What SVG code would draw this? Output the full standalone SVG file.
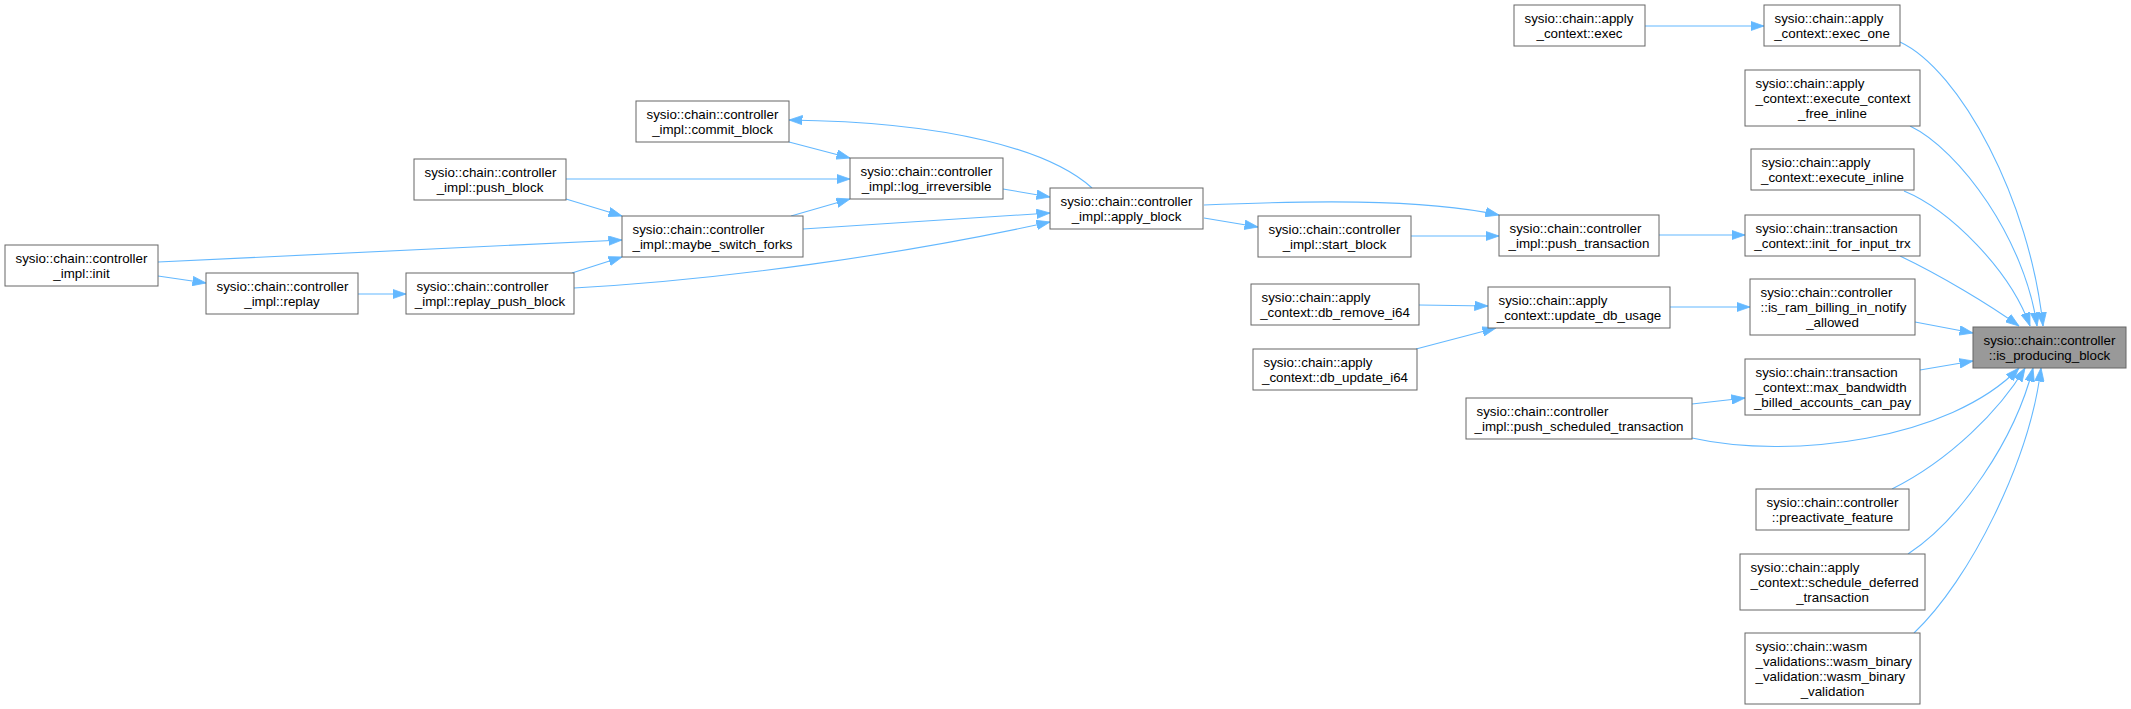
<svg xmlns="http://www.w3.org/2000/svg" width="2131" height="709" viewBox="0 0 2131 709">
<style>
.n rect{fill:#ffffff;stroke:#666666;stroke-width:1}
.n.hl rect{fill:#999999}
.n text{font-family:"Liberation Sans",Arial,Helvetica,sans-serif;font-size:13.33px;fill:#000000}
.n text.c{text-anchor:middle}
#edges path{fill:none;stroke:#63b8ff;stroke-width:1.1;marker-end:url(#ah)}
</style>
<defs>
<marker id="ah" markerUnits="userSpaceOnUse" markerWidth="14" markerHeight="10" viewBox="0 0 14 10" refX="13.5" refY="5" orient="auto">
<path d="M0,0.3 L13.5,5 L0,9.7 z" fill="#63b8ff" stroke="#63b8ff" stroke-width="0.8"/>
</marker>
</defs>
<rect x="0" y="0" width="2131" height="709" fill="#ffffff"/>
<g id="edges">
<path d="M1645,26 L1764,26"/>
<path d="M1900,42 C1960,70 2030,200 2043,326"/>
<path d="M1910,126 C1960,150 2025,240 2037,326"/>
<path d="M1904,191 C1950,210 2010,270 2030,326"/>
<path d="M1900,256 C1940,275 1990,305 2019,326"/>
<path d="M1915,322 L1973,333"/>
<path d="M1920,370 L1973,361"/>
<path d="M1692,438 C1790,460 1950,440 2019,368"/>
<path d="M1892,489 C1950,460 2000,410 2025,368"/>
<path d="M1908,554 C1960,520 2015,440 2033,368"/>
<path d="M1914,633 C1970,580 2030,460 2041,368"/>
<path d="M1659,235 L1745,235"/>
<path d="M1670,307 L1750,307"/>
<path d="M1692,404 L1745,398"/>
<path d="M1419,305 L1488,306"/>
<path d="M1416,349 L1496,328"/>
<path d="M1411,236 L1499,236"/>
<path d="M1204,205 C1300,201 1420,198 1499,215"/>
<path d="M1204,218 L1258,227"/>
<path d="M1092,188 C1050,150 950,122 789,120"/>
<path d="M789,142 L850,158"/>
<path d="M566,179 L850,179"/>
<path d="M566,199 L622,216"/>
<path d="M791,216 L850,199"/>
<path d="M1003,189 L1050,197"/>
<path d="M803,229 L1050,213"/>
<path d="M574,288 C720,280 900,255 1050,222"/>
<path d="M572,273 L622,257"/>
<path d="M158,262 L622,240"/>
<path d="M158,276 L206,283"/>
<path d="M358,294 L406,294"/>
</g>
<g id="init" class="n"><rect x="5" y="245" width="153" height="41"/><text x="15.5" y="263">sysio::chain::controller</text><text class="c" x="81.5" y="278">_impl::init</text></g>
<g id="replay" class="n"><rect x="206" y="273" width="152" height="41"/><text x="216.5" y="291">sysio::chain::controller</text><text class="c" x="282" y="306">_impl::replay</text></g>
<g id="replay_push_block" class="n"><rect x="406" y="273" width="168" height="41"/><text x="416.5" y="291">sysio::chain::controller</text><text class="c" x="490" y="306">_impl::replay_push_block</text></g>
<g id="push_block" class="n"><rect x="414" y="159" width="152" height="41"/><text x="424.5" y="177">sysio::chain::controller</text><text class="c" x="490" y="192">_impl::push_block</text></g>
<g id="maybe_switch_forks" class="n"><rect x="622" y="216" width="181" height="41"/><text x="632.5" y="234">sysio::chain::controller</text><text class="c" x="712.5" y="249">_impl::maybe_switch_forks</text></g>
<g id="commit_block" class="n"><rect x="636" y="101" width="153" height="41"/><text x="646.5" y="119">sysio::chain::controller</text><text class="c" x="712.5" y="134">_impl::commit_block</text></g>
<g id="log_irreversible" class="n"><rect x="850" y="158" width="153" height="41"/><text x="860.5" y="176">sysio::chain::controller</text><text class="c" x="926.5" y="191">_impl::log_irreversible</text></g>
<g id="apply_block" class="n"><rect x="1050" y="188" width="153" height="41"/><text x="1060.5" y="206">sysio::chain::controller</text><text class="c" x="1126.5" y="221">_impl::apply_block</text></g>
<g id="start_block" class="n"><rect x="1258" y="216" width="153" height="41"/><text x="1268.5" y="234">sysio::chain::controller</text><text class="c" x="1334.5" y="249">_impl::start_block</text></g>
<g id="push_transaction" class="n"><rect x="1499" y="215" width="160" height="41"/><text x="1509.5" y="233">sysio::chain::controller</text><text class="c" x="1579" y="248">_impl::push_transaction</text></g>
<g id="db_remove_i64" class="n"><rect x="1251" y="284" width="168" height="41"/><text x="1261.5" y="302">sysio::chain::apply</text><text class="c" x="1335" y="317">_context::db_remove_i64</text></g>
<g id="db_update_i64" class="n"><rect x="1253" y="349" width="164" height="41"/><text x="1263.5" y="367">sysio::chain::apply</text><text class="c" x="1335" y="382">_context::db_update_i64</text></g>
<g id="update_db_usage" class="n"><rect x="1488" y="287" width="182" height="41"/><text x="1498.5" y="305">sysio::chain::apply</text><text class="c" x="1579" y="320">_context::update_db_usage</text></g>
<g id="push_scheduled_transaction" class="n"><rect x="1466" y="398" width="226" height="41"/><text x="1476.5" y="416">sysio::chain::controller</text><text class="c" x="1579" y="431">_impl::push_scheduled_transaction</text></g>
<g id="exec" class="n"><rect x="1514" y="5" width="131" height="41"/><text x="1524.5" y="23">sysio::chain::apply</text><text class="c" x="1579.5" y="38">_context::exec</text></g>
<g id="exec_one" class="n"><rect x="1764" y="5" width="136" height="41"/><text x="1774.5" y="23">sysio::chain::apply</text><text class="c" x="1832" y="38">_context::exec_one</text></g>
<g id="execute_context_free_inline" class="n"><rect x="1745" y="70" width="175" height="56"/><text x="1755.5" y="88">sysio::chain::apply</text><text x="1755.5" y="103">_context::execute_context</text><text class="c" x="1832.5" y="118">_free_inline</text></g>
<g id="execute_inline" class="n"><rect x="1751" y="149" width="163" height="41"/><text x="1761.5" y="167">sysio::chain::apply</text><text class="c" x="1832.5" y="182">_context::execute_inline</text></g>
<g id="init_for_input_trx" class="n"><rect x="1745" y="215" width="175" height="41"/><text x="1755.5" y="233">sysio::chain::transaction</text><text class="c" x="1832.5" y="248">_context::init_for_input_trx</text></g>
<g id="is_ram_billing_in_notify_allowed" class="n"><rect x="1750" y="279" width="165" height="56"/><text x="1760.5" y="297">sysio::chain::controller</text><text x="1760.5" y="312">::is_ram_billing_in_notify</text><text class="c" x="1832.5" y="327">_allowed</text></g>
<g id="max_bandwidth_billed_accounts_can_pay" class="n"><rect x="1745" y="359" width="175" height="56"/><text x="1755.5" y="377">sysio::chain::transaction</text><text x="1755.5" y="392">_context::max_bandwidth</text><text class="c" x="1832.5" y="407">_billed_accounts_can_pay</text></g>
<g id="preactivate_feature" class="n"><rect x="1756" y="489" width="153" height="41"/><text x="1766.5" y="507">sysio::chain::controller</text><text class="c" x="1832.5" y="522">::preactivate_feature</text></g>
<g id="schedule_deferred_transaction" class="n"><rect x="1740" y="554" width="185" height="56"/><text x="1750.5" y="572">sysio::chain::apply</text><text x="1750.5" y="587">_context::schedule_deferred</text><text class="c" x="1832.5" y="602">_transaction</text></g>
<g id="wasm_binary_validation" class="n"><rect x="1745" y="633" width="175" height="71"/><text x="1755.5" y="651">sysio::chain::wasm</text><text x="1755.5" y="666">_validations::wasm_binary</text><text x="1755.5" y="681">_validation::wasm_binary</text><text class="c" x="1832.5" y="696">_validation</text></g>
<g id="is_producing_block" class="n hl"><rect x="1973" y="327" width="153" height="41"/><text x="1983.5" y="345">sysio::chain::controller</text><text class="c" x="2049.5" y="360">::is_producing_block</text></g>
</svg>
